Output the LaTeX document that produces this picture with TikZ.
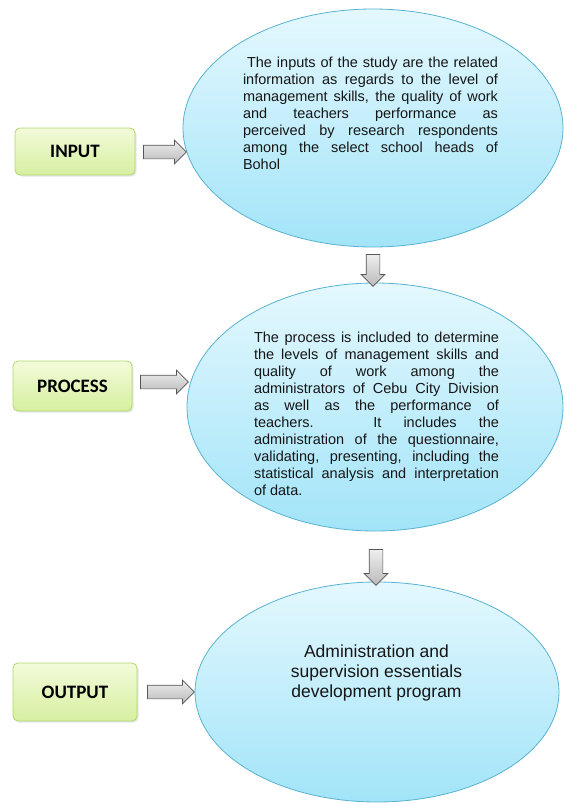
\documentclass[tikz,border=0pt]{standalone}
\usepackage{fontspec}
\setmainfont{Liberation Sans}
\newfontfamily\labelfont{Carlito}
\usetikzlibrary{shapes.geometric, shapes.arrows, shadows}
\definecolor{boxtop}{RGB}{243,251,218}
\definecolor{boxbot}{RGB}{214,239,160}
\definecolor{boxline}{RGB}{178,214,112}
\definecolor{bubtop}{RGB}{228,248,254}
\definecolor{bubbot}{RGB}{162,228,248}
\definecolor{bubline}{RGB}{88,178,208}
\definecolor{arrtop}{RGB}{238,238,238}
\definecolor{arrbot}{RGB}{186,186,186}
\definecolor{arrline}{RGB}{85,85,85}
\definecolor{textdark}{RGB}{22,22,22}
\tikzset{
  stagebox/.style={rectangle, draw=boxline, top color=boxtop, bottom color=boxbot,
    rounded corners=5pt, line width=0.8pt, text=black,
    font=\labelfont\bfseries\fontsize{19}{22}\selectfont,
    drop shadow={opacity=0.2, shadow xshift=1.5pt, shadow yshift=-1.5pt}},
  bubble/.style={ellipse, draw=bubline, top color=bubtop, bottom color=bubbot,
    line width=0.8pt, inner sep=0pt},
  bubtext/.style={align=justify, text=textdark, inner sep=0pt,
    font=\fontsize{14.5}{17}\selectfont,
    execute at begin node={\tolerance=10000\relax\hbadness=10000\relax\hyphenpenalty=10000\relax}},
  bigtext/.style={align=center, text=textdark, inner sep=0pt,
    font=\fontsize{17.5}{20}\selectfont},
  garrow/.style={single arrow, draw=arrline, top color=arrtop, bottom color=arrbot,
    inner xsep=0pt, inner ysep=6.5pt, single arrow head extend=5pt,
    single arrow head indent=0pt, line width=0.7pt}
}
\begin{document}
\begin{tikzpicture}[x=1pt, y=-1pt]
  \useasboundingbox (0,0) rectangle (565,803);

  % Stage labels
  \node[stagebox, minimum width=120, minimum height=47] (input) at (75,151.5) {INPUT};
  \node[stagebox, minimum width=119, minimum height=50] (process) at (72.5,386) {PROCESS};
  \node[stagebox, minimum width=124, minimum height=58] (output) at (75,692) {OUTPUT};

  % Ellipses
  \node[bubble, minimum width=380, minimum height=238] (inbub) at (373,128) {};
  \node[bubble, minimum width=376, minimum height=248] (procbub) at (375,407) {};
  \node[bubble, minimum width=364, minimum height=220] (outbub) at (377,692) {};

  % Ellipse texts
  \node[bubtext, text width=255] (intext) at (370.5,113) {\hspace*{4pt}The inputs of the study are the related\linebreak
    information as regards to the level of\linebreak
    management skills, the quality of work\linebreak
    and teachers performance as\linebreak
    perceived by research respondents\linebreak
    among the select school heads of\linebreak
    Bohol};
  \node[bubtext, text width=245] (proctext) at (376.5,413.5) {The process is included to determine\linebreak
    the levels of management skills and\linebreak
    quality of work among the\linebreak
    administrators of Cebu City Division\linebreak
    as well as the performance of\linebreak
    teachers. It includes the\linebreak
    administration of the questionnaire,\linebreak
    validating, presenting, including the\linebreak
    statistical analysis and interpretation\linebreak
    of data.};
  \node[bigtext] (outtext) at (376.5,673) {Administration and\\ supervision essentials\\ development program};

  % Block arrows
  \node[garrow, minimum height=43] (a1) at (161.5,152) {};
  \node[garrow, minimum height=48] (a2) at (161,382) {};
  \node[garrow, minimum height=47] (a3) at (167.5,692) {};
  \node[garrow, minimum height=32, rotate=-90] (d1) at (373,267) {};
  \node[garrow, minimum height=36, rotate=-90] (d2) at (376,564) {};
\end{tikzpicture}
\end{document}
